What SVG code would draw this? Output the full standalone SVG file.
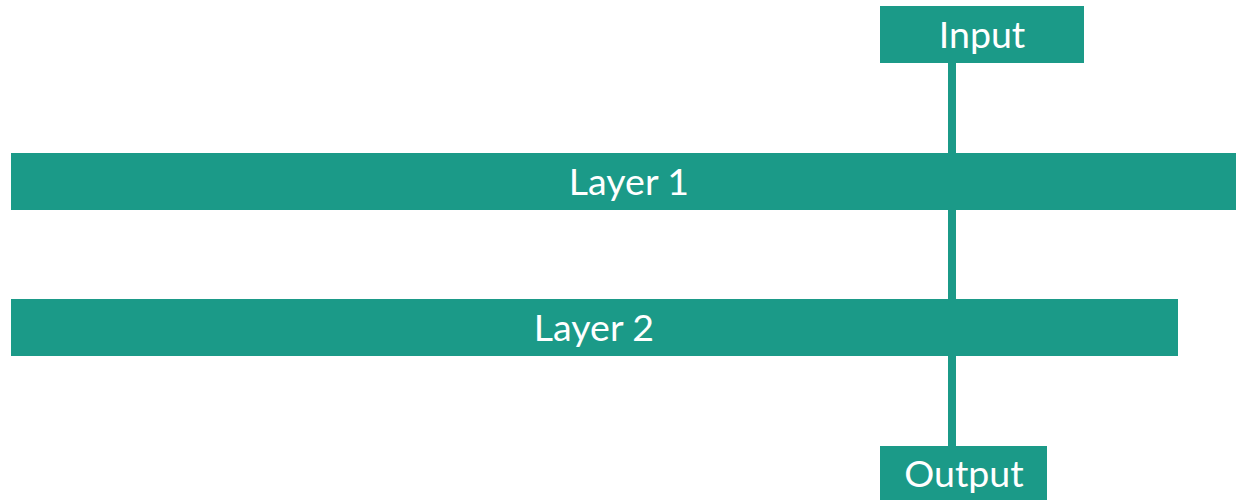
<svg xmlns="http://www.w3.org/2000/svg" width="1236" height="500" viewBox="0 0 1236 500">
<style>
.box{fill:#1b9a88}
.lbl{fill:#ffffff;font-family:Lato,"Liberation Sans",sans-serif;font-size:37.5px;text-anchor:middle}
.edge{stroke:#1b9a88;stroke-width:8;fill:none}
</style>
<rect width="1236" height="500" fill="#ffffff"/>
<g id="connectors">
<line class="edge" x1="952" y1="63" x2="952" y2="153"/>
<line class="edge" x1="952" y1="210" x2="952" y2="299"/>
<line class="edge" x1="952" y1="356" x2="952" y2="446"/>
</g>
<g id="input">
<rect class="box" x="880" y="6" width="204" height="57"/>
<text class="lbl" x="982" y="48">Input</text>
</g>
<g id="layer1">
<rect class="box" x="11" y="153" width="1225" height="57"/>
<text class="lbl" x="629" y="195">Layer 1</text>
</g>
<g id="layer2">
<rect class="box" x="11" y="299" width="1167" height="57"/>
<text class="lbl" x="594" y="341">Layer 2</text>
</g>
<g id="output">
<rect class="box" x="880" y="446" width="167" height="54"/>
<text class="lbl" x="964" y="487">Output</text>
</g>
</svg>
